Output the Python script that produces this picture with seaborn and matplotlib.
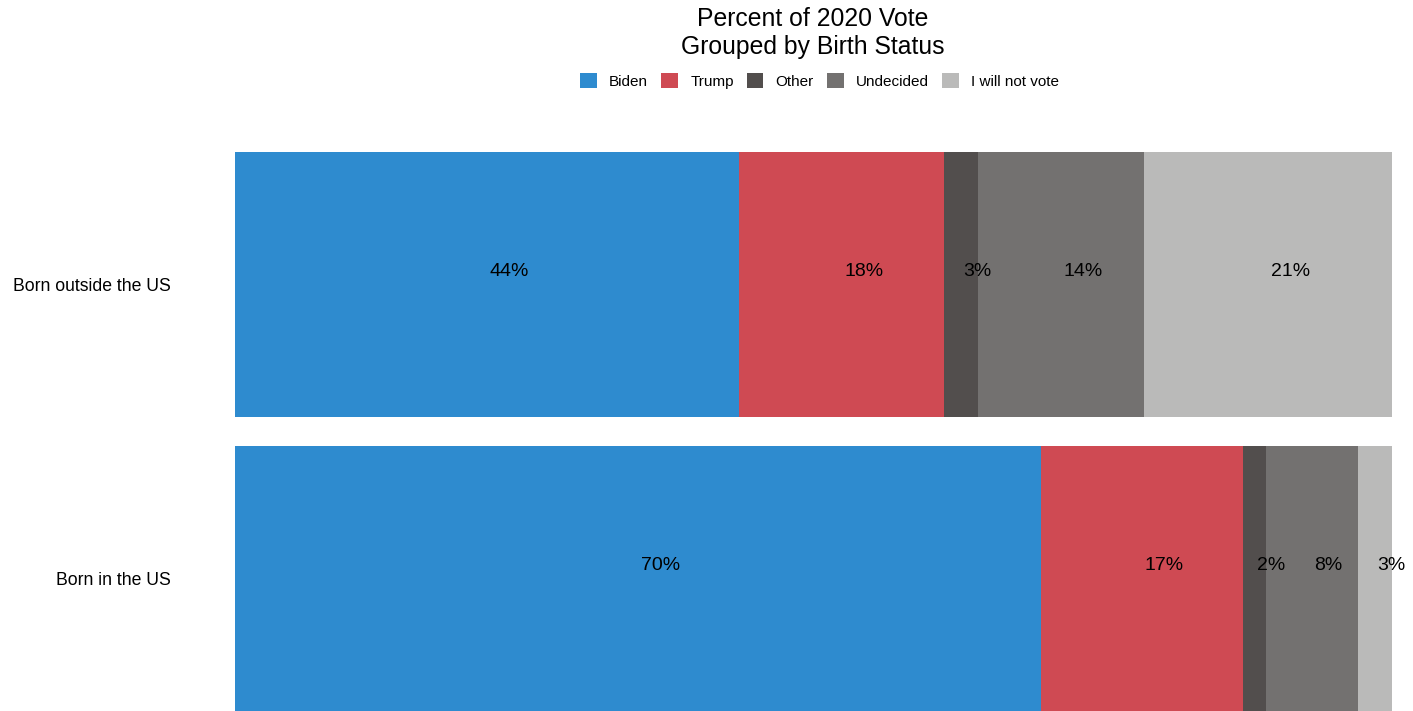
import pandas as pd
import seaborn as sns
from matplotlib import pyplot as plt
from matplotlib.patches import Patch

groups = ["Born outside the US", "Born in the US"]
choices = ["Biden", "Trump", "Other", "Undecided", "I will not vote"]
biden = [43.6, 69.7]
trump = [17.7, 17.4]
other = [2.9, 2.0]
undecided = [14.4, 8.0]
no_vote = [21.4, 2.9]
colors = ["#2E8BCF", "#CF4A53", "#524E4D", "#737170", "#BABAB9"]

sns.set_theme(style="white")
plt.rcParams['font.family'] = ['Liberation Sans', 'DejaVu Sans']

df = pd.DataFrame({"group": groups, "Biden": biden, "Trump": trump, "Other": other,
                   "Undecided": undecided, "I will not vote": no_vote})
cum = df[choices].cumsum(axis=1)
cum["group"] = df["group"]

fig = plt.figure(figsize=(14.13, 7.11), dpi=100)
ax = fig.add_axes([235/1413, 0.0, (1392-235)/1413, 0.848])

# draw cumulative bars from the widest back, so each series shows as a segment
for ch, col in reversed(list(zip(choices, colors))):
    sns.barplot(data=cum, x=ch, y="group", orient="h", color=col, width=0.9,
                saturation=1, linewidth=0, ax=ax, order=groups)

for i, g in enumerate(groups):
    for ch in choices:
        v = df.loc[i, ch]
        mid = cum.loc[i, ch] - v / 2
        ax.text(mid + 0.2, i - 0.045, f"{round(v):.0f}%", ha="left", va="center", fontsize=14, color="black")

ax.set_xlim(0, 100)
ax.set_ylim(1.45, -0.6)
ax.set_xlabel("")
ax.set_ylabel("")
ax.set_xticks([])
ax.tick_params(axis="y", length=0, pad=46, labelsize=12.7, labelcolor="black")
for s in ax.spines.values():
    s.set_visible(False)

fig.text(0.575, 0.99, "Percent of 2020 Vote\nGrouped by Birth Status", ha="center", va="top",
         fontsize=17.8, linespacing=1.2, color="black")
handles = [Patch(facecolor=c, edgecolor="none") for c in colors]
fig.legend(handles, choices, loc="center", bbox_to_anchor=(0.58, 0.886), ncol=5, frameon=False,
           fontsize=11, handlelength=1.1, handleheight=1.1, handletextpad=0.8, columnspacing=0.85,
           labelcolor="black")

plt.savefig("out.png", dpi=100)
